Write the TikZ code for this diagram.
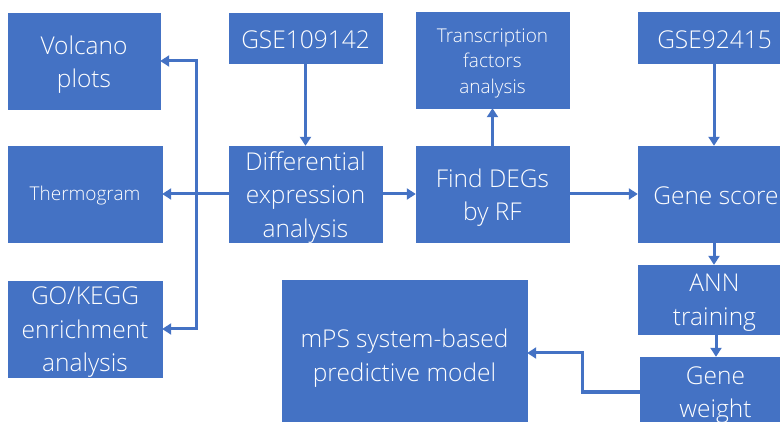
\documentclass[tikz,border=0pt]{standalone}
\usepackage{fontspec}
\setmainfont{Open Sans Light}
\usetikzlibrary{arrows.meta}
\definecolor{boxblue}{HTML}{4472C4}
\tikzset{
  box/.style={rectangle, fill=boxblue, draw=boxblue, inner sep=0pt},
  boxtext/.style={text=white, align=center, inner sep=0pt,
    font=\fontsize{24.5}{33.5}\selectfont},
  smalltext/.style={font=\fontsize{19}{25.5}\selectfont},
  arr/.style={draw=boxblue, line width=3pt, -{Triangle[length=9pt,width=11pt]}}
}
\begin{document}
\begin{tikzpicture}[x=1pt, y=-1pt]
\useasboundingbox (0,0) rectangle (780,422);
\clip (0,0) rectangle (780,422);

% left column of result boxes
\node[box, minimum width=152pt, minimum height=96pt] (volc) at (84,61) {};
\node[box, minimum width=154pt, minimum height=96pt] (therm) at (85,194) {};
\node[box, minimum width=154pt, minimum height=96pt] (go) at (85,329) {};

% main pipeline
\node[box, minimum width=153pt, minimum height=50pt] (gse1) at (305.5,38) {};
\node[box, minimum width=153pt, minimum height=96pt] (diff) at (305.5,194) {};
\node[box, minimum width=153pt, minimum height=96pt] (tf) at (492.5,60) {};
\node[box, minimum width=153pt, minimum height=96pt] (deg) at (492.5,194) {};
\node[box, minimum width=153pt, minimum height=51pt] (gse2) at (714.5,37.5) {};
\node[box, minimum width=153pt, minimum height=96pt] (score) at (714.5,194) {};
\node[box, minimum width=153pt, minimum height=69pt] (ann) at (714.5,299.5) {};
\node[box, minimum width=151pt, minimum height=70pt] (weight) at (715.5,392) {};
\node[box, minimum width=245pt, minimum height=150pt] (mps) at (404.5,355) {};

% box labels, set a little below each box centre
\node[boxtext] (volc-t) at ([yshift=-3.5pt]volc.center) {Volcano\\plots};
\node[boxtext, smalltext] (therm-t) at ([yshift=-2pt]therm.center) {Thermogram};
\node[boxtext] (go-t) at ([yshift=-3.5pt]go.center) {GO/KEGG\\enrichment\\analysis};
\node[boxtext] (gse1-t) at ([yshift=-2pt]gse1.center) {GSE109142};
\node[boxtext] (diff-t) at ([yshift=-3.5pt]diff.center) {Differential\\expression\\analysis};
\node[boxtext, smalltext] (tf-t) at ([yshift=-3pt]tf.center) {Transcription\\factors\\analysis};
\node[boxtext] (deg-t) at ([yshift=-3.5pt]deg.center) {Find DEGs\\by RF};
\node[boxtext] (gse2-t) at ([yshift=-2pt]gse2.center) {GSE92415};
\node[boxtext] (score-t) at ([xshift=1.5pt,yshift=-2pt]score.center) {Gene score};
\node[boxtext] (ann-t) at ([yshift=-3pt]ann.center) {ANN\\training};
\node[boxtext] (weight-t) at ([yshift=-3pt]weight.center) {Gene\\weight};
\node[boxtext] (mps-t) at ([yshift=-3pt]mps.center) {mPS system-based\\predictive model};

% connectors
\coordinate (bus) at (196,194);
\draw[arr] (gse1) -- (diff);
\draw[arr] (diff.west) -- (therm.east);
\draw[arr] (bus) |- (volc.east);
\draw[arr] (bus) |- (go.east);
\draw[arr] (diff) -- (deg);
\draw[arr] (deg) -- (tf);
\draw[arr] (deg) -- (score);
\draw[arr] (gse2.south -| 714,0) -- (score.north -| 714,0);
\draw[arr] (score.south -| 714,0) -- (ann.north -| 714,0);
\draw[arr] (ann.south -| 716,0) -- (weight.north -| 716,0);
\coordinate (bend) at (582,353);
\draw[arr] (weight.west) -| (bend) -- (bend -| mps.east);
\end{tikzpicture}
\end{document}
